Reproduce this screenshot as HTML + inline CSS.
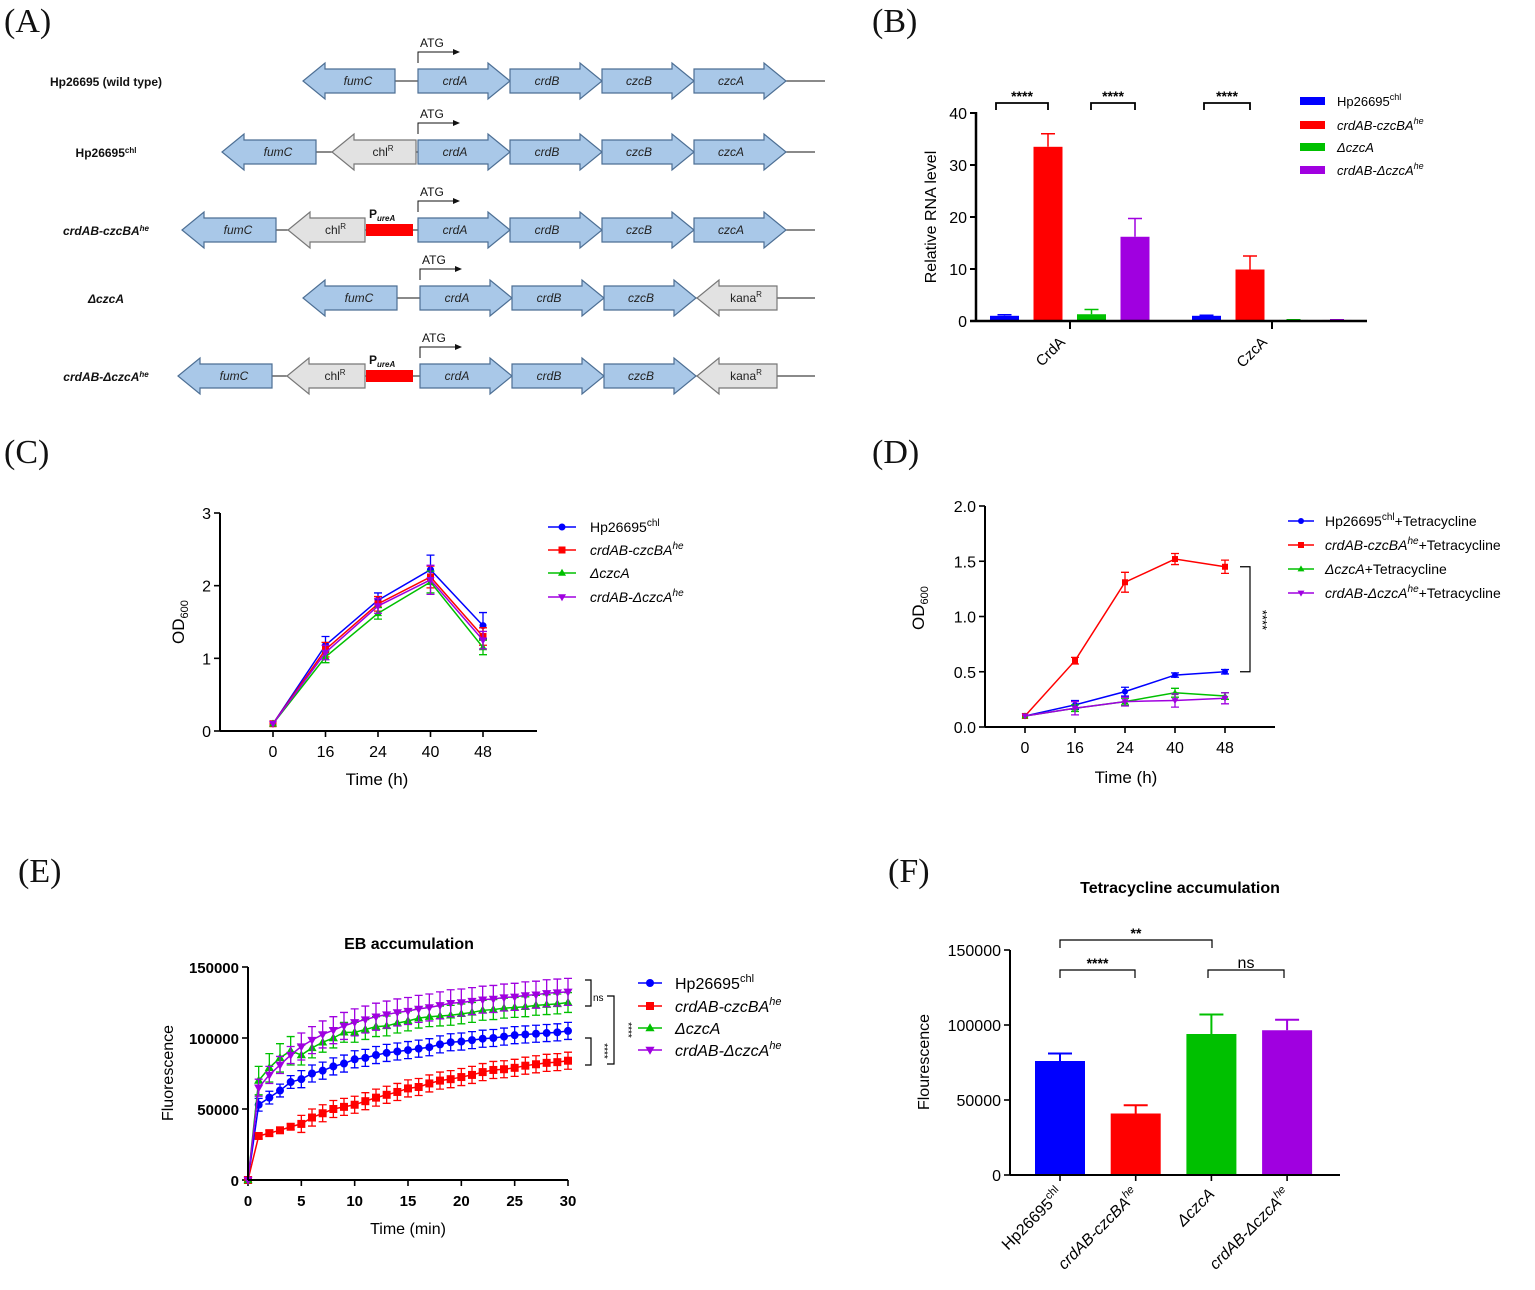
<!DOCTYPE html>
<html><head><meta charset="utf-8"><style>
body{margin:0;background:#fff}
svg{display:block;font-family:"Liberation Sans",Arial,sans-serif}
</style></head><body>
<svg id="fig" width="1535" height="1290" viewBox="0 0 1535 1290" xmlns="http://www.w3.org/2000/svg">
<g font-family="Liberation Serif" font-size="34" fill="#111">
<text x="4" y="32">(A)</text>
<text x="872" y="32">(B)</text>
<text x="4" y="463">(C)</text>
<text x="872" y="463">(D)</text>
<text x="18" y="882">(E)</text>
<text x="888" y="882">(F)</text>
</g>
<g id="pA"></g>
<g id="pB"></g>
<g id="pC"></g>
<g id="pD"></g>
<g id="pE"></g>
<g id="pF"></g>
</svg>
<script>
const NS="http://www.w3.org/2000/svg";
function mk(tag,attrs,parent,txt){const e=document.createElementNS(NS,tag);for(const k in attrs)e.setAttribute(k,attrs[k]);if(txt!==undefined)e.innerHTML=txt;parent.appendChild(e);return e;}
const BLUE="#0000ff",RED="#ff0000",GREEN="#00c000",PURPLE="#a000e0";
const COLORS=[BLUE,RED,GREEN,PURPLE];

/* ---------- Panel A ---------- */
const pA=document.getElementById('pA');
const rowsY=[81,152,230,298,376];
const rowLabels=['Hp26695 (wild type)','Hp26695<tspan font-size="8" dy="-4">chl</tspan>','<tspan font-style="italic">crdAB-czcBA<tspan font-size="8" dy="-4">he</tspan></tspan>','<tspan font-style="italic">ΔczcA</tspan>','<tspan font-style="italic">crdAB-ΔczcA<tspan font-size="8" dy="-4">he</tspan></tspan>'];
const rowLabelX=[106,106,106,106,106];
const lineSpans=[[303,825],[222,815],[182,815],[303,815],[178,815]];
const genes=[
 [['fumC',303,395,-1,'b'],['crdA',418,510,1,'b'],['crdB',510,602,1,'b'],['czcB',602,694,1,'b'],['czcA',694,786,1,'b']],
 [['fumC',222,316,-1,'b'],['chl<tspan font-size="8" dy="-5">R</tspan>',332,416,-1,'g'],['crdA',418,510,1,'b'],['crdB',510,602,1,'b'],['czcB',602,694,1,'b'],['czcA',694,786,1,'b']],
 [['fumC',182,276,-1,'b'],['chl<tspan font-size="8" dy="-5">R</tspan>',288,365,-1,'g'],['crdA',418,510,1,'b'],['crdB',510,602,1,'b'],['czcB',602,694,1,'b'],['czcA',694,786,1,'b']],
 [['fumC',303,397,-1,'b'],['crdA',420,512,1,'b'],['crdB',512,604,1,'b'],['czcB',604,696,1,'b'],['kana<tspan font-size="8" dy="-5">R</tspan>',697,777,-1,'g']],
 [['fumC',178,272,-1,'b'],['chl<tspan font-size="8" dy="-5">R</tspan>',287,365,-1,'g'],['crdA',420,512,1,'b'],['crdB',512,604,1,'b'],['czcB',604,696,1,'b'],['kana<tspan font-size="8" dy="-5">R</tspan>',697,777,-1,'g']]
];
const promoterRows=[2,4];
rowsY.forEach((cy,i)=>{
  const lab=mk('text',{x:rowLabelX[i],y:cy+5,'text-anchor':'middle','font-size':12,'font-weight':'bold',fill:'#111'},pA,rowLabels[i]);
  
  
  const ln=mk('line',{x1:lineSpans[i][0],x2:lineSpans[i][1],y1:cy,y2:cy,stroke:'#444','stroke-width':1.3},pA);
  
  
  genes[i].forEach(g=>{
    const [name,x1,x2,dir,col]=g;const h=22;let pts;
    if(dir>0)pts=[[x1,cy-12],[x2-h,cy-12],[x2-h,cy-18],[x2,cy],[x2-h,cy+18],[x2-h,cy+12],[x1,cy+12]];
    else pts=[[x2,cy-12],[x1+h,cy-12],[x1+h,cy-18],[x1,cy],[x1+h,cy+18],[x1+h,cy+12],[x2,cy+12]];
    const p=mk('polygon',{points:pts.map(q=>q.join(',')).join(' '),fill:col==='b'?'#a9c8e8':'#e2e2e2',stroke:col==='b'?'#4d6f94':'#777','stroke-width':1.2},pA);
    
    
    const cx=dir>0?(x1+x2-h)/2+2:(x1+h+x2)/2-2;
    const t=mk('text',{x:cx,y:cy+4,'text-anchor':'middle','font-size':12,fill:'#222','font-style':col==='b'?'italic':'normal'},pA,name);
    
    
  });
  const sx=genes[i].find(g=>g[0]==='crdA')[1];
  const ar=mk('path',{d:`M${sx} ${cy-18} V${cy-29} H${sx+36}`,stroke:'#111',fill:'none','stroke-width':1},pA);
  
  
  mk('polygon',{points:`${sx+42},${cy-29} ${sx+35},${cy-32} ${sx+35},${cy-26}`,fill:'#111'},pA);
  const at=mk('text',{x:sx+2,y:cy-34,'font-size':12,fill:'#111'},pA,'ATG');
  
  
  if(promoterRows.includes(i)){
    const r=mk('rect',{x:366,y:cy-6,width:47,height:12,fill:'#ff0000'},pA);
    
    
    const pt=mk('text',{x:369,y:cy-12,'font-size':12,'font-weight':'bold',fill:'#111'},pA,'P<tspan font-size="8" font-style="italic" dy="3">ureA</tspan>');
    
    
  }
});

/* ---------- Panel B ---------- */
const bGroups=['CrdA','CzcA'];
const bSeries=['Hp26695','crdAB-czcBA','ΔczcA','crdAB-ΔczcA'];
const bVals=[[1,33.5,1.3,16.2],[1,9.9,0.2,0.2]];
const bErr=[[0.2,2.5,0.9,3.5],[0.1,2.6,0.05,0.05]];
const bTicks=[0,10,20,30,40];
const pB=document.getElementById('pB');
const bx0=976,bxEnd=1367,by0=321,byTop=113,bMax=40;
const bY=v=>by0-(by0-byTop)*v/bMax;
const bGroupX=[990,1192];
const bBarStep=43.5,bBarW=29;
bTicks.forEach(t=>{
  mk('line',{x1:bx0-6,x2:bx0,y1:bY(t),y2:bY(t),stroke:'#000','stroke-width':2},pB);
  const tl=mk('text',{x:bx0-9,y:bY(t)+6,'text-anchor':'end','font-size':16,fill:'#000'},pB,t);
  
  
});
bVals.forEach((grp,gi)=>{
  grp.forEach((v,si)=>{
    const x=bGroupX[gi]+si*bBarStep;
    const r=mk('rect',{x:x,y:bY(v),width:bBarW,height:Math.max(by0-bY(v),1.5),fill:COLORS[si]},pB);
    
    
    const e=bErr[gi][si];
    mk('path',{d:`M${x+bBarW/2} ${bY(v)} V${bY(v+e)} M${x+bBarW/2-7} ${bY(v+e)} H${x+bBarW/2+7}`,stroke:COLORS[si],'stroke-width':1.5,fill:'none'},pB);
  });
});
mk('line',{x1:bx0,x2:bx0,y1:byTop-1,y2:by0+1,stroke:'#000','stroke-width':2.5},pB);
mk('line',{x1:bx0-6,x2:bxEnd,y1:by0,y2:by0,stroke:'#000','stroke-width':2.5},pB);
[1070,1272].forEach((tx,i)=>{
  mk('line',{x1:tx,x2:tx,y1:by0,y2:by0+8,stroke:'#000','stroke-width':2},pB);
  const gl=mk('text',{x:tx-4,y:by0+22,'text-anchor':'end','font-size':15,fill:'#000',transform:`rotate(-45 ${tx-4} ${by0+22})`},pB,bGroups[i]);
  
  
});
const yb=mk('text',{x:936,y:217,'text-anchor':'middle','font-size':16,fill:'#000',transform:'rotate(-90 936 217)'},pB,'Relative RNA level');


[[996,1048],[1091,1135],[1204,1250]].forEach(b=>{
  mk('path',{d:`M${b[0]} 110 V103 H${b[1]} V110`,stroke:'#000','stroke-width':1.8,fill:'none'},pB);
  const s=mk('text',{x:(b[0]+b[1])/2,y:101,'text-anchor':'middle','font-size':14,'font-weight':'bold',fill:'#000'},pB,'****');
  
  
});
const legB=['Hp26695<tspan font-size="9" dy="-6">chl</tspan>','<tspan font-style="italic">crdAB-czcBA<tspan font-size="9" dy="-6">he</tspan></tspan>','<tspan font-style="italic">ΔczcA</tspan>','<tspan font-style="italic">crdAB-ΔczcA<tspan font-size="9" dy="-6">he</tspan></tspan>'];
[101,125,147,170].forEach((y,i)=>{
  const r=mk('rect',{x:1300,y:y-4,width:25,height:8,fill:COLORS[i]},pB);
  
  
  const t=mk('text',{x:1337,y:y+5,'font-size':13,fill:'#000'},pB,legB[i]);
  
  
});

/* ---------- Line chart helper for C/D ---------- */
const timeCats=['0','16','24','40','48'];
function markerPath(kind,x,y,s){
  if(kind==='circle')return null;
  if(kind==='square')return `M${x-s} ${y-s}H${x+s}V${y+s}H${x-s}Z`;
  if(kind==='tri')return `M${x} ${y-s*1.2}L${x+s*1.15} ${y+s*0.8}L${x-s*1.15} ${y+s*0.8}Z`;
  return `M${x} ${y+s*1.2}L${x+s*1.15} ${y-s*0.8}L${x-s*1.15} ${y-s*0.8}Z`;
}
const markers=['circle','square','tri','dtri'];
function drawMarker(g,kind,x,y,s,c){
  let m;
  if(kind==='circle')m=mk('circle',{cx:x,cy:y,r:s,fill:c},g);
  else m=mk('path',{d:markerPath(kind,x,y,s),fill:c},g);
  
  
}
function lineChart(g,cfg){
  const Y=v=>cfg.y0-(cfg.y0-cfg.yTop)*(v-cfg.min)/(cfg.max-cfg.min);
  const X=cfg.X;
  cfg.ticks.forEach(t=>{
    mk('line',{x1:cfg.ax-6,x2:cfg.ax,y1:Y(t),y2:Y(t),stroke:'#000','stroke-width':1.6},g);
    const tl=mk('text',{x:cfg.ax-9,y:Y(t)+6,'text-anchor':'end','font-size':cfg.fs,fill:'#000','font-weight':cfg.bold?'bold':'normal'},g,cfg.tickFmt(t));
    
    
  });
  cfg.xticks.forEach((xv,i)=>{
    mk('line',{x1:X(xv),x2:X(xv),y1:cfg.y0,y2:cfg.y0+6,stroke:'#000','stroke-width':1.6},g);
    const tl=mk('text',{x:X(xv),y:cfg.y0+26,'text-anchor':'middle','font-size':cfg.fs,fill:'#000','font-weight':cfg.bold?'bold':'normal'},g,cfg.xlabels[i]);
    
    
  });
  cfg.series.forEach((vals,si)=>{
    const c=COLORS[si];
    const pts=vals.map((v,i)=>[X(cfg.xs[i]),Y(v)]);
    const pl=mk('polyline',{points:pts.map(p=>p.join(',')).join(' '),fill:'none',stroke:c,'stroke-width':1.5},g);
    
    
    vals.forEach((v,i)=>{
      const e=cfg.errs[si][i];
      if(e>0){
        const x=X(cfg.xs[i]);
        mk('path',{d:`M${x} ${Y(v-e)}V${Y(v+e)}M${x-4} ${Y(v-e)}H${x+4}M${x-4} ${Y(v+e)}H${x+4}`,stroke:c,'stroke-width':1.3,fill:'none'},g);
      }
      drawMarker(g,markers[si],X(cfg.xs[i]),Y(v),cfg.ms,c);
    });
  });
  mk('line',{x1:cfg.ax,x2:cfg.ax,y1:cfg.yTop,y2:cfg.y0,stroke:'#000','stroke-width':2},g);
  mk('line',{x1:cfg.ax,x2:cfg.axEnd,y1:cfg.y0,y2:cfg.y0,stroke:'#000','stroke-width':2},g);
  return Y;
}

/* ---------- Panel C ---------- */
const cBlue=[0.1,1.18,1.8,2.22,1.45];
const cRed=[0.1,1.12,1.75,2.12,1.3];
const cGreen=[0.1,1.02,1.62,2.05,1.15];
const cPurple=[0.1,1.08,1.72,2.08,1.25];
const cErrBlue=[0,0.12,0.1,0.2,0.18];
const cErrRed=[0,0.1,0.1,0.15,0.12];
const cErrGreen=[0,0.08,0.08,0.15,0.1];
const cErrPurple=[0,0.1,0.1,0.2,0.12];
const cTicks=[0,1,2,3];
const pC=document.getElementById('pC');
lineChart(pC,{ax:220,axEnd:537,y0:731,yTop:513,min:0,max:3,ticks:cTicks,tickFmt:t=>t,fs:16,bold:false,ms:3.5,
  X:i=>273+52.5*i,xticks:[0,1,2,3,4],xlabels:timeCats,xs:[0,1,2,3,4],
  series:[cBlue,cRed,cGreen,cPurple],errs:[cErrBlue,cErrRed,cErrGreen,cErrPurple]});
let t1=mk('text',{x:377,y:785,'text-anchor':'middle','font-size':17,fill:'#000'},pC,'Time (h)');


t1=mk('text',{x:184,y:622,'text-anchor':'middle','font-size':17,fill:'#000',transform:'rotate(-90 184 622)'},pC,'OD<tspan font-size="11" dy="4">600</tspan>');


const legC=['Hp26695<tspan font-size="10" dy="-6">chl</tspan>','<tspan font-style="italic">crdAB-czcBA<tspan font-size="10" dy="-6">he</tspan></tspan>','<tspan font-style="italic">ΔczcA</tspan>','<tspan font-style="italic">crdAB-ΔczcA<tspan font-size="10" dy="-6">he</tspan></tspan>'];
[527,550,573,597].forEach((y,i)=>{
  mk('line',{x1:548,x2:576,y1:y,y2:y,stroke:COLORS[i],'stroke-width':1.5},pC);
  drawMarker(pC,markers[i],562,y,3.5,COLORS[i]);
  const t=mk('text',{x:590,y:y+5,'font-size':14,fill:'#000'},pC,legC[i]);
  
  
});

/* ---------- Panel D ---------- */
const dBlue=[0.1,0.2,0.32,0.47,0.5];
const dRed=[0.1,0.6,1.31,1.52,1.45];
const dGreen=[0.1,0.17,0.23,0.31,0.28];
const dPurple=[0.1,0.17,0.23,0.24,0.26];
const dErrBlue=[0,0.04,0.04,0.02,0.02];
const dErrRed=[0,0.03,0.09,0.05,0.06];
const dErrGreen=[0,0.03,0.03,0.04,0.03];
const dErrPurple=[0,0.06,0.04,0.06,0.05];
const dTicks=[0,0.5,1,1.5,2];
const pD=document.getElementById('pD');
const dY=lineChart(pD,{ax:985,axEnd:1275,y0:727,yTop:506,min:0,max:2,ticks:dTicks,tickFmt:t=>t.toFixed(1),fs:16,bold:false,ms:3,
  X:i=>1025+50*i,xticks:[0,1,2,3,4],xlabels:timeCats,xs:[0,1,2,3,4],
  series:[dBlue,dRed,dGreen,dPurple],errs:[dErrBlue,dErrRed,dErrGreen,dErrPurple]});
t1=mk('text',{x:1126,y:783,'text-anchor':'middle','font-size':17,fill:'#000'},pD,'Time (h)');


t1=mk('text',{x:924,y:608,'text-anchor':'middle','font-size':17,fill:'#000',transform:'rotate(-90 924 608)'},pD,'OD<tspan font-size="11" dy="4">600</tspan>');


mk('path',{d:`M1240 ${dY(dRed[4])} H1250 V${dY(dBlue[4])} H1240`,stroke:'#000','stroke-width':1.2,fill:'none'},pD);
t1=mk('text',{x:1258,y:620,'text-anchor':'middle','font-size':13,fill:'#000',transform:'rotate(90 1258 620)'},pD,'****');


const legD=['Hp26695<tspan font-size="10" dy="-6">chl</tspan><tspan dy="6">+Tetracycline</tspan>','<tspan font-style="italic">crdAB-czcBA<tspan font-size="10" dy="-6">he</tspan></tspan><tspan dy="6">+Tetracycline</tspan>','<tspan font-style="italic">ΔczcA</tspan>+Tetracycline','<tspan font-style="italic">crdAB-ΔczcA<tspan font-size="10" dy="-6">he</tspan></tspan><tspan dy="6">+Tetracycline</tspan>'];
[521,545,569,593].forEach((y,i)=>{
  mk('line',{x1:1288,x2:1314,y1:y,y2:y,stroke:COLORS[i],'stroke-width':1.5},pD);
  drawMarker(pD,markers[i],1301,y,3,COLORS[i]);
  const t=mk('text',{x:1325,y:y+5,'font-size':14,fill:'#000'},pD,legD[i]);
  
  
});

/* ---------- Panel E ---------- */
const eTime=[0,1,2,3,4,5,6,7,8,9,10,11,12,13,14,15,16,17,18,19,20,21,22,23,24,25,26,27,28,29,30];
const eBlue=[0,53000,58000,63000,69000,71000,75000,77000,80000,82000,85000,86000,88000,89500,90500,91500,92500,93500,95500,97000,97500,98500,99500,100000,101000,102000,102500,103000,103500,104000,105000];
const eRed=[0,31000,33000,35000,37500,39500,44000,47000,50000,51500,53000,55500,58000,60000,62000,64500,65500,68000,70000,71000,72500,74000,76000,77500,78000,79000,80500,81500,82500,83000,84000];
const eGreen=[0,70000,79000,86000,91000,88000,93000,97000,100000,104000,104000,106000,108000,108500,110500,112000,114000,115000,115500,116000,117000,118000,119500,120000,121000,121500,122000,123000,123500,124000,125000];
const ePurple=[0,65000,74000,81000,88000,94000,98500,102500,105500,108500,111000,113000,115000,116500,118000,119000,120500,121500,123000,124500,125000,126000,127000,127500,128500,129000,130000,130500,131500,132000,132500];
const eErrBlue=eTime.map((t,i)=>i===0?0:(i<5?4500:6000));
const eErrRed=eTime.map((t,i)=>i===0?0:(i<5?2000:6000));
const eErrGreen=eTime.map((t,i)=>i===0?0:(i<5?10000:7000));
const eErrPurple=eTime.map((t,i)=>i===0?0:(i<5?6000:9500));
const eTicks=[0,50000,100000,150000];
const eXTicks=[0,5,10,15,20,25,30];
const pE=document.getElementById('pE');
const eY=lineChart(pE,{ax:248,axEnd:568,y0:1180,yTop:967,min:0,max:150000,ticks:eTicks,tickFmt:t=>t,fs:15,bold:true,ms:4,
  X:v=>248+v*(568-248)/30,xticks:eXTicks,xlabels:eXTicks.map(String),xs:eTime,
  series:[eBlue,eRed,eGreen,ePurple],errs:[eErrBlue,eErrRed,eErrGreen,eErrPurple]});
t1=mk('text',{x:409,y:949,'text-anchor':'middle','font-size':16,'font-weight':'bold',fill:'#000'},pE,'EB accumulation');


t1=mk('text',{x:408,y:1234,'text-anchor':'middle','font-size':16,fill:'#000'},pE,'Time (min)');


t1=mk('text',{x:173,y:1073,'text-anchor':'middle','font-size':16,fill:'#000',transform:'rotate(-90 173 1073)'},pE,'Fluorescence');


mk('path',{d:'M585 980H591V1006H585',stroke:'#000','stroke-width':1.2,fill:'none'},pE);
mk('text',{x:593,y:1001,'font-size':10,fill:'#000'},pE,'ns');
mk('path',{d:'M585 1038H591V1065H585',stroke:'#000','stroke-width':1.2,fill:'none'},pE);
mk('text',{x:601,y:1051,'font-size':10,'text-anchor':'middle',fill:'#000',transform:'rotate(90 601 1051)'},pE,'****');
mk('path',{d:'M607 996H614V1064H607',stroke:'#000','stroke-width':1.2,fill:'none'},pE);
mk('text',{x:625,y:1030,'font-size':10,'text-anchor':'middle',fill:'#000',transform:'rotate(90 625 1030)'},pE,'****');
const legE=['Hp26695<tspan font-size="11" dy="-7">chl</tspan>','<tspan font-style="italic">crdAB-czcBA<tspan font-size="11" dy="-7">he</tspan></tspan>','<tspan font-style="italic">ΔczcA</tspan>','<tspan font-style="italic">crdAB-ΔczcA<tspan font-size="11" dy="-7">he</tspan></tspan>'];
[983,1006,1028,1050].forEach((y,i)=>{
  mk('line',{x1:638,x2:662,y1:y,y2:y,stroke:COLORS[i],'stroke-width':1.5},pE);
  drawMarker(pE,markers[i],650,y,4,COLORS[i]);
  const t=mk('text',{x:675,y:y+6,'font-size':16,fill:'#000'},pE,legE[i]);
  
  
});

/* ---------- Panel F ---------- */
const fCats=['Hp26695<tspan font-size="11" dy="-7">chl</tspan>','<tspan font-style="italic">crdAB-czcBA<tspan font-size="11" dy="-7">he</tspan></tspan>','<tspan font-style="italic">ΔczcA</tspan>','<tspan font-style="italic">crdAB-ΔczcA<tspan font-size="11" dy="-7">he</tspan></tspan>'];
const fVals=[76000,41000,94000,96500];
const fErr=[5000,5500,13000,7000];
const fTicks=[0,50000,100000,150000];
const pF=document.getElementById('pF');
const fx0=1010,fxEnd=1340,fy0=1175,fyTop=950,fMax=150000;
const fY=v=>fy0-(fy0-fyTop)*v/fMax;
const fX=i=>1035+i*75.7;
const fW=50;
fTicks.forEach(t=>{
  mk('line',{x1:fx0-6,x2:fx0,y1:fY(t),y2:fY(t),stroke:'#000','stroke-width':1.6},pF);
  const tl=mk('text',{x:fx0-9,y:fY(t)+6,'text-anchor':'end','font-size':16,fill:'#000'},pF,t);
  
  
});
fVals.forEach((v,i)=>{
  const x=fX(i);
  const r=mk('rect',{x:x,y:fY(v),width:fW,height:fy0-fY(v),fill:COLORS[i]},pF);
  
  
  mk('path',{d:`M${x+fW/2} ${fY(v)}V${fY(v+fErr[i])}M${x+fW/2-12} ${fY(v+fErr[i])}H${x+fW/2+12}`,stroke:COLORS[i],'stroke-width':2,fill:'none'},pF);
  mk('line',{x1:x+fW/2,x2:x+fW/2,y1:fy0,y2:fy0+6,stroke:'#000','stroke-width':1.6},pF);
  const lx=x+fW/2+4,ly=fy0+20;
  const tl=mk('text',{x:lx,y:ly,'text-anchor':'end','font-size':16,fill:'#000',transform:`rotate(-45 ${lx} ${ly})`},pF,fCats[i]);
  
  
});
mk('line',{x1:fx0,x2:fx0,y1:fyTop,y2:fy0,stroke:'#000','stroke-width':2},pF);
mk('line',{x1:fx0,x2:fxEnd,y1:fy0,y2:fy0,stroke:'#000','stroke-width':2},pF);
t1=mk('text',{x:1180,y:893,'text-anchor':'middle','font-size':16,'font-weight':'bold',fill:'#000'},pF,'Tetracycline accumulation');


t1=mk('text',{x:929,y:1062,'text-anchor':'middle','font-size':16,fill:'#000',transform:'rotate(-90 929 1062)'},pF,'Flourescence');


[[1060,1212,948,'**'],[1060,1135,978,'****'],[1208,1284,978,'ns']].forEach(b=>{
  mk('path',{d:`M${b[0]} ${b[2]}V${b[2]-8}H${b[1]}V${b[2]}`,stroke:'#000','stroke-width':1.2,fill:'none'},pF);
  const s=mk('text',{x:(b[0]+b[1])/2,y:b[2]-10,'text-anchor':'middle','font-size':b[3]==='ns'?16:14,'font-weight':b[3]==='ns'?'normal':'bold',fill:'#000'},pF,b[3]);
  
  
});
</script>
</body></html>
